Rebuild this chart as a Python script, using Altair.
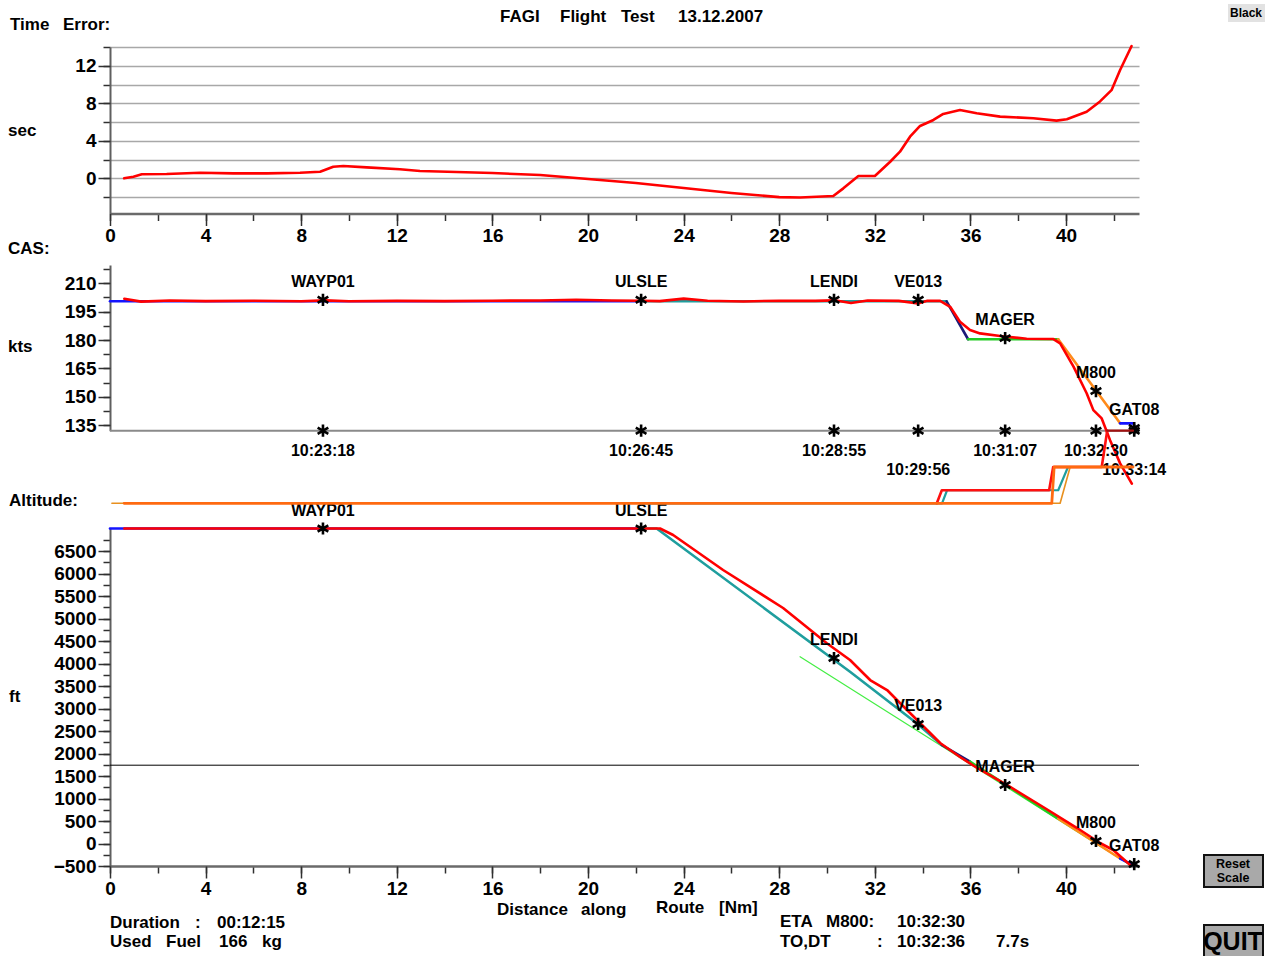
import altair as alt
import pandas as pd

FONT = "Liberation Sans"
X_MAX = 43.05
LEFT = 110  # page x of distance 0

# ------------------------------------------------------------------ data
# Time error (sec) vs distance along route (Nm)
TE_DIST = [0.59, 0.98, 1.33, 2.37, 3.77, 5.16, 6.56, 7.95, 8.79, 9.34, 9.76, 10.74, 12.13, 12.97,
           14.5, 16.0, 18.0, 20.0, 22.0, 24.0, 26.0, 28.0, 28.87, 30.26, 30.68, 31.31, 32.0,
           32.64, 33.05, 33.47, 33.89, 34.45, 34.86, 35.56, 36.26, 37.24, 38.63, 39.6, 40.03,
           40.86, 41.42, 41.9, 42.26, 42.74]
TE_SEC = [0.0, 0.17, 0.43, 0.46, 0.6, 0.53, 0.53, 0.6, 0.7, 1.24, 1.31, 1.17, 0.96, 0.78,
          0.68, 0.56, 0.35, -0.07, -0.5, -1.03, -1.57, -2.0, -2.05, -1.89, -1.07, 0.25, 0.25,
          1.77, 2.84, 4.44, 5.58, 6.22, 6.86, 7.29, 6.94, 6.58, 6.4, 6.15, 6.3,
          7.1, 8.2, 9.4, 11.55, 14.1]

# Flown CAS (kts)
CAS_DIST = [0.6, 1.3, 2.5, 4.0, 6.0, 8.0, 9.0, 10.0, 12.0, 14.0, 16.0, 18.0, 19.5, 21.0, 22.2,
            23.0, 24.0, 25.0, 26.5, 28.0, 29.5, 30.3, 31.0, 31.7, 33.0, 33.8, 34.2, 34.73, 35.15,
            35.56, 35.98, 36.4, 37.24, 38.35, 39.47, 39.75, 40.31, 40.86, 41.14, 41.49, 41.84,
            42.26, 42.75]
CAS_KTS = [201.8, 200.3, 200.9, 200.6, 200.8, 200.5, 201.0, 200.5, 200.7, 200.6, 200.8, 200.9,
           201.3, 200.9, 200.8, 200.6, 201.9, 200.8, 200.4, 200.8, 200.7, 201.0, 199.6, 200.9,
           200.7, 199.3, 200.8, 200.7, 197.6, 189.7, 185.3, 183.5, 182.1, 180.7, 180.5, 178.2,
           165.9, 151.8, 142.9, 138.5, 127.0, 114.7, 104.0]

# Planned CAS profile, by segment
CAS_PLAN_DIST = {"blue": [0.0, 22.2], "teal": [22.2, 35.0], "navy": [35.0, 35.9],
                 "green": [35.9, 39.67], "orange": [39.67, 42.26], "blue2": [42.26, 42.8]}
CAS_PLAN_KTS = {"blue": [200.5, 200.5], "teal": [200.5, 200.5], "navy": [200.5, 180.4],
                "green": [180.4, 180.4], "orange": [180.4, 135.9], "blue2": [135.9, 135.9]}

# Flown altitude (ft)
ALT_DIST = [0.6, 23.01, 23.56, 25.65, 28.16, 29.99, 30.96, 31.8, 32.51, 33.05, 33.89, 34.73,
            35.56, 36.28, 37.66, 39.04, 40.46, 41.42, 41.97, 42.68]
ALT_FT = [7000, 7000, 6856, 6078, 5233, 4449, 4078, 3633, 3411, 3122, 2678, 2233,
          1922, 1678, 1256, 811, 344, 11, -144, -478]

# Planned altitude profile, by segment
ALT_PLAN_DIST = {"blue": [0.0, 22.2], "teal": [22.2, 22.87, 30.96, 33.75, 34.8],
                 "navy": [34.8, 35.98], "green": [35.98, 39.67], "orange": [39.67, 42.26],
                 "blue2": [42.26, 42.8]}
ALT_PLAN_FT = {"blue": [7000, 7000], "teal": [7000, 7000, 3818, 2671, 2189],
               "navy": [2189, 1818], "green": [1818, 553], "orange": [553, -334],
               "blue2": [-334, -480]}

GLIDE_DIST = [28.87, 42.68]
GLIDE_FT = [4151, -478]
REF_ALT = [1740]

# Configuration step traces above the altitude panel (level units)
MODE_DIST = {"teal": [22.2, 34.81, 35.02, 39.67, 40.08, 42.8],
             "red": [34.59, 34.8, 39.29, 39.46, 41.49, 41.72],
             "maroon": [41.72, 42.8],
             "orange_thin": [0.08, 39.75, 40.17, 42.8],
             "orange": [0.59, 39.4, 39.5, 42.8]}
MODE_LVL = {"teal": [0, 0, 1.8, 1.8, 5, 5],
            "red": [0, 1.8, 1.8, 5, 5, 10],
            "maroon": [10, 10],
            "orange_thin": [0, 0, 5, 5],
            "orange": [0, 0, 5, 5]}

# Waypoints
WP_NAME = ["WAYP01", "ULSLE", "LENDI", "VE013", "MAGER", "M800", "GAT08"]
WP_DIST = [8.91, 22.22, 30.29, 33.81, 37.45, 41.25, 42.85]
WP_CAS = [201.3, 201.3, 201.3, 201.3, 181.0, 153.0, 133.4]
WP_ALT = [7000, 7000, 4122, 2656, 1300, 56, -456]
WP_TIME = ["10:23:18", "10:26:45", "10:28:55", "10:29:56", "10:31:07", "10:32:30", "10:33:14"]
WP_TIME_ROW = [0, 0, 0, 1, 0, 0, 1]

# axis tick values
TE_MINOR = list(range(-2, 15, 2))
TE_MAJOR = [0, 4, 8, 12]
CAS_MINOR = [135 + 7.5 * k for k in range(12)]
CAS_MAJOR = [135, 150, 165, 180, 195, 210]
ALT_MINOR = list(range(-500, 6751, 250))
ALT_MAJOR = list(range(-500, 6501, 500))
X_MINOR = list(range(0, 43, 2))
X_MAJOR = list(range(0, 41, 4))

# ------------------------------------------------------------------ styles
SEG_COLOR = {"blue": "#1414ff", "teal": "#1f9e9e", "navy": "#1a1a78", "green": "#22cc22",
             "orange": "#ff8a1a", "blue2": "#1414ff"}
MODE_COLOR = {"teal": "#1f9e9e", "red": "#ff1010", "maroon": "#a01010",
              "orange_thin": "#e8901e", "orange": "#ff6a10"}
MODE_WIDTH = {"teal": 2.2, "red": 2.6, "maroon": 2.2, "orange_thin": 1.6, "orange": 2.8}
ASTERISK = "M0,-1L0,1M-0.87,-0.5L0.87,0.5M-0.87,0.5L0.87,-0.5"

XS = alt.Scale(domain=[0, X_MAX], nice=False, zero=False)
TE_Y = alt.Scale(domain=[-3.75, 14], range=[213.5, 47], nice=False, zero=False)
CAS_Y = alt.Scale(domain=[132, 219.7], range=[430.7, 265], nice=False, zero=False)
ALT_Y = alt.Scale(domain=[-500, 7000], range=[866, 528.5], nice=False, zero=False)
MODE_Y = alt.Scale(domain=[0, 10], range=[503.3, 430.7], nice=False, zero=False)


def line(d, v, color, width, yscale):
    df = pd.DataFrame({"d": d, "v": v, "i": list(range(len(d)))})
    return alt.Chart(df).mark_line(color=color, strokeWidth=width, strokeJoin="round",
                                   strokeCap="round").encode(
        x=alt.X("d:Q", scale=XS, axis=None),
        y=alt.Y("v:Q", scale=yscale, axis=None),
        order=alt.Order("i:Q"))


def hrule(v, color, width, yscale):
    return alt.Chart(pd.DataFrame({"v": v})).mark_rule(color=color, strokeWidth=width).encode(
        y=alt.Y("v:Q", scale=yscale, axis=None))


def stars(d, v, yscale):
    return alt.Chart(pd.DataFrame({"d": d, "v": v})).mark_point(
        shape=ASTERISK, size=150, filled=False, color="black", strokeWidth=2.6, opacity=1).encode(
        x=alt.X("d:Q", scale=XS, axis=None), y=alt.Y("v:Q", scale=yscale, axis=None))


def labels(d, v, t, yscale, dy):
    return alt.Chart(pd.DataFrame({"d": d, "v": v, "t": t})).mark_text(
        font=FONT, fontSize=16, fontWeight="bold", color="black", baseline="middle",
        align="center", dy=dy).encode(
        x=alt.X("d:Q", scale=XS, axis=None), y=alt.Y("v:Q", scale=yscale, axis=None),
        text="t:N")


def txt(s, px, py, size=17, align="left", weight="bold"):
    return alt.Chart(pd.DataFrame({"t": [s]})).mark_text(
        font=FONT, fontSize=size, fontWeight=weight, align=align, baseline="middle",
        color="black").encode(x=alt.value(px - LEFT), y=alt.value(py), text="t:N")


def button(x0, y0, x1, y1, fill, stroke=None):
    kw = dict(fill=fill)
    if stroke:
        kw.update(stroke=stroke, strokeWidth=2)
    return alt.Chart(pd.DataFrame({"b": [0]})).mark_rect(**kw).encode(
        x=alt.value(x0 - LEFT), x2=alt.value(x1 - LEFT), y=alt.value(y0), y2=alt.value(y1))


AX = dict(title=None, labelFont=FONT, labelFontSize=19, labelFontWeight="bold",
          labelColor="black", tickColor="#303030", tickWidth=1.5, domainColor="#5f5f5f",
          domainWidth=2, labelOverlap=False, labelFlush=False, format="d")


def axis(**kw):
    d = dict(AX)
    d.update(kw)
    return alt.Axis(**d)


def ghost(ydom, yscale, xaxis, yaxis):
    df = pd.DataFrame({"d": [0, X_MAX], "v": ydom})
    return alt.Chart(df).mark_line(opacity=0).encode(
        x=alt.X("d:Q", scale=XS, axis=xaxis), y=alt.Y("v:Q", scale=yscale, axis=yaxis))


TOP_OFF = -(866 - 213.5)

axes_layers = [
    ghost([-3.75, 14], TE_Y,
          axis(orient="bottom", offset=TOP_OFF, values=X_MINOR, tickSize=7, labels=False,
               grid=False, domain=True, domainWidth=2.5, domainColor="#6a6a6a"),
          axis(orient="left", values=TE_MINOR, tickSize=7, labels=False, grid=True,
               gridColor="#a8a8a8", gridWidth=1.6, domain=True)),
    ghost([-3.75, 14], TE_Y,
          axis(orient="bottom", offset=TOP_OFF, values=X_MAJOR, tickSize=12, labelPadding=1,
               grid=False, domain=False),
          axis(orient="left", values=TE_MAJOR, tickSize=12, labelPadding=2, grid=False,
               domain=False)),
    ghost([132, 219.7], CAS_Y, None,
          axis(orient="left", values=CAS_MINOR, tickSize=7, labels=False, grid=False,
               domain=True)),
    ghost([132, 219.7], CAS_Y, None,
          axis(orient="left", values=CAS_MAJOR, tickSize=12, labelPadding=2, grid=False,
               domain=False)),
    ghost([-500, 7000], ALT_Y,
          axis(orient="bottom", values=X_MINOR, tickSize=7, labels=False, grid=False,
               domain=True, domainWidth=2.5, domainColor="#6a6a6a"),
          axis(orient="left", values=ALT_MINOR, tickSize=7, labels=False, grid=False,
               domain=True)),
    ghost([-500, 7000], ALT_Y,
          axis(orient="bottom", values=X_MAJOR, tickSize=12, labelPadding=1, grid=False,
               domain=False),
          axis(orient="left", values=ALT_MAJOR, tickSize=12, labelPadding=2, grid=False,
               domain=False)),
]

te_panel = line(TE_DIST, TE_SEC, "#ff0000", 2.6, TE_Y)

row0 = [i for i, r in enumerate(WP_TIME_ROW) if r == 0]
row1 = [i for i, r in enumerate(WP_TIME_ROW) if r == 1]
cas_layers = [hrule([132], "#8a8a8a", 2, CAS_Y)]
cas_layers += [line(CAS_PLAN_DIST[k], CAS_PLAN_KTS[k], SEG_COLOR[k], 2.6, CAS_Y)
               for k in CAS_PLAN_DIST]
cas_layers += [
    line(CAS_DIST, CAS_KTS, "#ff0000", 2.6, CAS_Y),
    stars(WP_DIST, [132] * len(WP_DIST), CAS_Y),
    labels([WP_DIST[i] for i in row0], [132] * len(row0), [WP_TIME[i] for i in row0], CAS_Y, 20.5),
    labels([WP_DIST[i] for i in row1], [132] * len(row1), [WP_TIME[i] for i in row1], CAS_Y, 39.5),
    stars(WP_DIST, WP_CAS, CAS_Y),
    labels(WP_DIST, WP_CAS, WP_NAME, CAS_Y, -18),
]
cas_panel = alt.layer(*cas_layers)

alt_layers = [hrule(REF_ALT, "#000000", 1, ALT_Y),
              line(GLIDE_DIST, GLIDE_FT, "#44ee44", 1.2, ALT_Y)]
alt_layers += [line(ALT_PLAN_DIST[k], ALT_PLAN_FT[k], SEG_COLOR[k], 2.6, ALT_Y)
               for k in ALT_PLAN_DIST]
alt_layers += [
    line(ALT_DIST, ALT_FT, "#ff0000", 2.6, ALT_Y),
    stars(WP_DIST, WP_ALT, ALT_Y),
    labels(WP_DIST, WP_ALT, WP_NAME, ALT_Y, -18),
]
alt_panel = alt.layer(*alt_layers)

mode_panel = alt.layer(*[line(MODE_DIST[k], MODE_LVL[k], MODE_COLOR[k], MODE_WIDTH[k], MODE_Y)
                         for k in ["teal", "red", "maroon", "orange_thin", "orange"]])

text_layers = [
    txt("FAGI", 500, 17), txt("Flight", 560, 17), txt("Test", 621, 17), txt("13.12.2007", 678, 17),
    txt("Time", 10, 25), txt("Error:", 63, 25), txt("sec", 8, 131),
    txt("CAS:", 8, 249), txt("kts", 8, 347),
    txt("Altitude:", 9, 501), txt("ft", 9, 697),
    txt("Distance", 497, 910), txt("along", 581, 910), txt("Route", 656, 908), txt("[Nm]", 719, 908),
    txt("Duration", 110, 923), txt(":", 195, 923), txt("00:12:15", 217, 923),
    txt("Used", 110, 942), txt("Fuel", 166, 942), txt("166", 219, 942), txt("kg", 262, 942),
    txt("ETA", 780, 922), txt("M800:", 826, 922), txt("10:32:30", 897, 922),
    txt("TO,DT", 780, 942), txt(":", 877, 942), txt("10:32:36", 897, 942), txt("7.7s", 996, 942),
    button(1228, 4, 1265, 22, "#e2e2e2"),
    txt("Black", 1246, 13, size=12, align="center"),
    button(1204, 855, 1263, 887, "#a9a9a9", "#111111"),
    txt("Reset", 1233, 864, size=12.5, align="center"),
    txt("Scale", 1233, 878, size=12.5, align="center"),
    button(1204, 925, 1263, 962, "#a9a9a9", "#111111"),
    txt("QUIT", 1233, 942, size=25, align="center"),
]

chart = alt.layer(*axes_layers, te_panel, cas_panel, alt_panel, mode_panel, *text_layers).resolve_scale(
    x="independent", y="independent"
).properties(
    width=1029, height=866,
    padding={"left": 110, "top": 0, "right": 128, "bottom": 90},
    autosize=alt.AutoSizeParams(type="none"),
    background="white",
).configure_view(stroke=None)

chart.save("out.html", embed_options={"renderer": "svg", "actions": False})
